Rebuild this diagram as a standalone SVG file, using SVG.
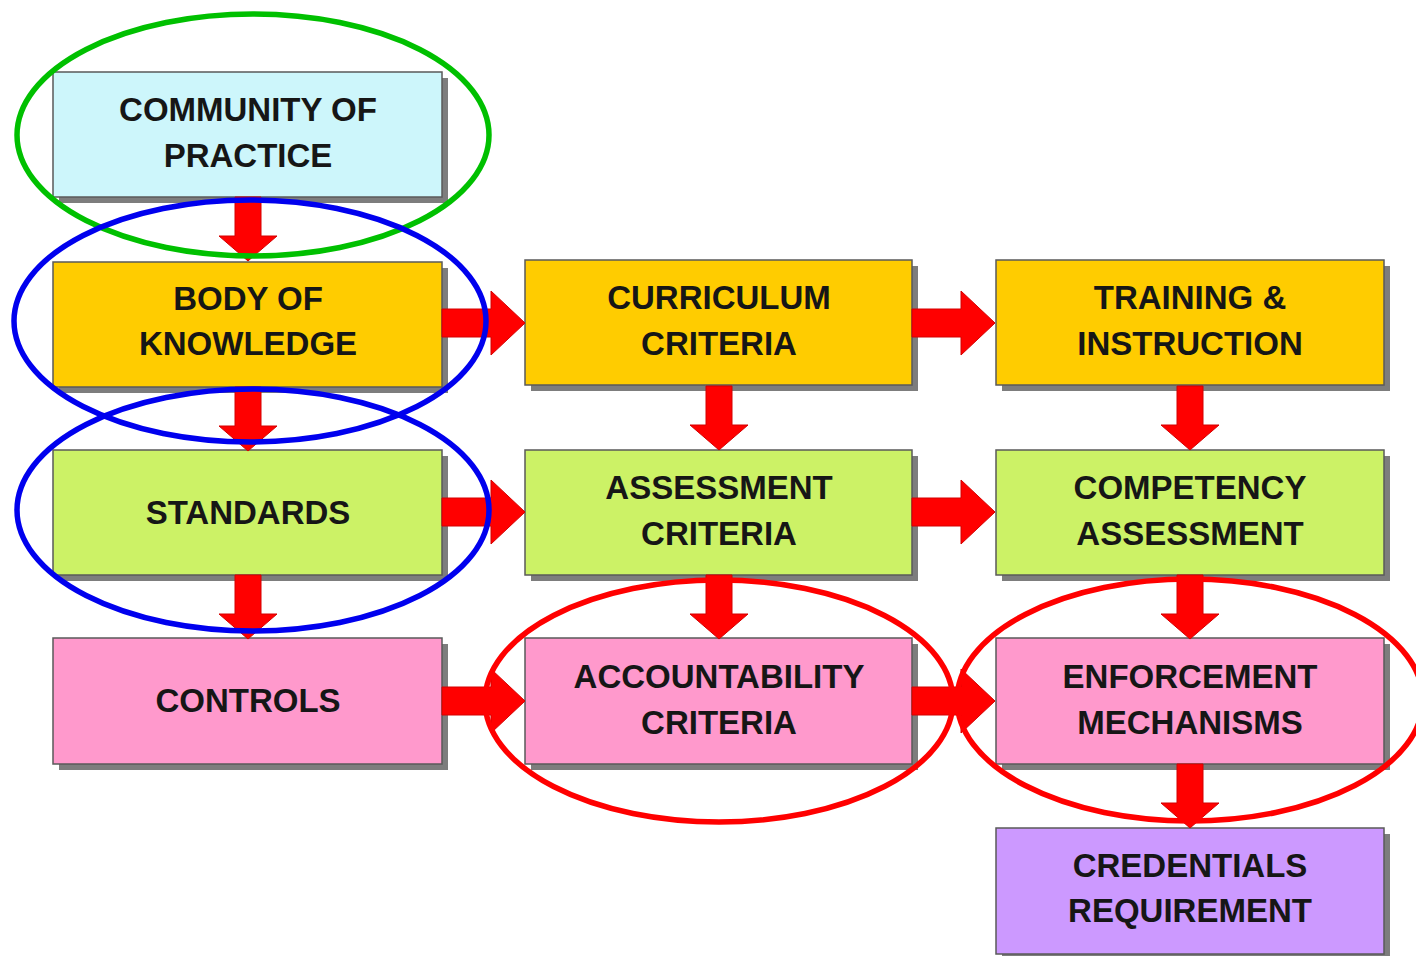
<svg xmlns="http://www.w3.org/2000/svg" xmlns:xlink="http://www.w3.org/1999/xlink" width="1416" height="956" viewBox="0 0 1416 956">
<style>
  .shadow { fill: #7d7d7d; }
  .box { stroke: #5a5a5a; stroke-width: 1.5; }
  .cyan { fill: #cdf6fb; }
  .gold { fill: #ffcc00; }
  .lime { fill: #ccf266; }
  .pink { fill: #ff99cc; }
  .violet { fill: #cc99ff; }
  .lbl { font-family: "Liberation Sans", Arial, sans-serif; font-weight: bold; font-size: 33px; text-anchor: middle; fill: #161616; }
  .arrow { fill: #ff0000; stroke: #d40000; stroke-width: 1; }
  .ring { fill: none; stroke-width: 5.5; }
</style>
<defs>
  <path id="down" d="M -13 0 L 13 0 L 13 39 L 29 39 L 0 64 L -29 39 L -13 39 Z"/>
  <path id="right" d="M 0 -14 L 49 -14 L 49 -32 L 83 0 L 49 32 L 49 14 L 0 14 Z"/>
</defs>
<rect width="1416" height="956" fill="#ffffff"/>

<g id="community-of-practice">
  <rect class="shadow" x="59" y="78" width="389" height="125"/>
  <rect class="box cyan" x="53" y="72" width="389" height="125"/>
  <text class="lbl" x="248" y="121">COMMUNITY OF</text>
  <text class="lbl" x="248" y="167">PRACTICE</text>
</g>
<g id="body-of-knowledge">
  <rect class="shadow" x="59" y="268" width="389" height="125"/>
  <rect class="box gold" x="53" y="262" width="389" height="125"/>
  <text class="lbl" x="248" y="310">BODY OF</text>
  <text class="lbl" x="248" y="355">KNOWLEDGE</text>
</g>
<g id="curriculum-criteria">
  <rect class="shadow" x="531" y="266" width="387" height="125"/>
  <rect class="box gold" x="525" y="260" width="387" height="125"/>
  <text class="lbl" x="719" y="309">CURRICULUM</text>
  <text class="lbl" x="719" y="355">CRITERIA</text>
</g>
<g id="training-instruction">
  <rect class="shadow" x="1002" y="266" width="388" height="125"/>
  <rect class="box gold" x="996" y="260" width="388" height="125"/>
  <text class="lbl" x="1190" y="309">TRAINING &amp;</text>
  <text class="lbl" x="1190" y="355">INSTRUCTION</text>
</g>
<g id="standards">
  <rect class="shadow" x="59" y="456" width="389" height="125"/>
  <rect class="box lime" x="53" y="450" width="389" height="125"/>
  <text class="lbl" x="248" y="524">STANDARDS</text>
</g>
<g id="assessment-criteria">
  <rect class="shadow" x="531" y="456" width="387" height="125"/>
  <rect class="box lime" x="525" y="450" width="387" height="125"/>
  <text class="lbl" x="719" y="499">ASSESSMENT</text>
  <text class="lbl" x="719" y="545">CRITERIA</text>
</g>
<g id="competency-assessment">
  <rect class="shadow" x="1002" y="456" width="388" height="125"/>
  <rect class="box lime" x="996" y="450" width="388" height="125"/>
  <text class="lbl" x="1190" y="499">COMPETENCY</text>
  <text class="lbl" x="1190" y="545">ASSESSMENT</text>
</g>
<g id="controls">
  <rect class="shadow" x="59" y="644" width="389" height="126"/>
  <rect class="box pink" x="53" y="638" width="389" height="126"/>
  <text class="lbl" x="248" y="712">CONTROLS</text>
</g>
<g id="accountability-criteria">
  <rect class="shadow" x="531" y="644" width="387" height="126"/>
  <rect class="box pink" x="525" y="638" width="387" height="126"/>
  <text class="lbl" x="719" y="688">ACCOUNTABILITY</text>
  <text class="lbl" x="719" y="734">CRITERIA</text>
</g>
<g id="enforcement-mechanisms">
  <rect class="shadow" x="1002" y="644" width="388" height="126"/>
  <rect class="box pink" x="996" y="638" width="388" height="126"/>
  <text class="lbl" x="1190" y="688">ENFORCEMENT</text>
  <text class="lbl" x="1190" y="734">MECHANISMS</text>
</g>
<g id="credentials-requirement">
  <rect class="shadow" x="1002" y="834" width="388" height="126"/>
  <rect class="box violet" x="996" y="828" width="388" height="126"/>
  <text class="lbl" x="1190" y="877">CREDENTIALS</text>
  <text class="lbl" x="1190" y="922">REQUIREMENT</text>
</g>

<g id="connectors">
  <use xlink:href="#down" class="arrow" x="248" y="197"/>
  <use xlink:href="#down" class="arrow" x="248" y="387"/>
  <use xlink:href="#down" class="arrow" x="248" y="575"/>
  <use xlink:href="#down" class="arrow" x="719" y="386"/>
  <use xlink:href="#down" class="arrow" x="719" y="575"/>
  <use xlink:href="#down" class="arrow" x="1190" y="386"/>
  <use xlink:href="#down" class="arrow" x="1190" y="575"/>
  <use xlink:href="#down" class="arrow" x="1190" y="764"/>
  <use xlink:href="#right" class="arrow" x="442" y="323"/>
  <use xlink:href="#right" class="arrow" x="912" y="323"/>
  <use xlink:href="#right" class="arrow" x="442" y="512"/>
  <use xlink:href="#right" class="arrow" x="912" y="512"/>
  <use xlink:href="#right" class="arrow" x="442" y="701"/>
  <use xlink:href="#right" class="arrow" x="912" y="701"/>
</g>

<g id="highlights">
  <ellipse class="ring" stroke="#00c000" cx="253" cy="135" rx="236" ry="121"/>
  <ellipse class="ring" stroke="#0000ee" cx="250" cy="321" rx="236" ry="121"/>
  <ellipse class="ring" stroke="#0000ee" cx="253" cy="510" rx="236" ry="121"/>
  <ellipse class="ring" stroke="#ff0000" cx="719" cy="701" rx="234" ry="121"/>
  <ellipse class="ring" stroke="#ff0000" cx="1190" cy="700" rx="233" ry="121"/>
</g>
</svg>
